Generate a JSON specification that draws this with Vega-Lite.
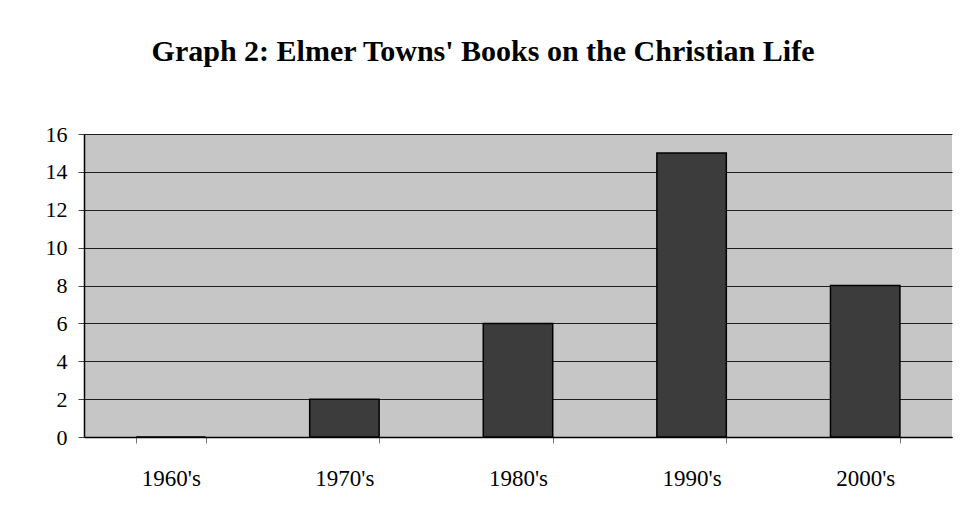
{
  "$schema": "https://vega.github.io/schema/vega-lite/v6.json",
  "width": 868,
  "height": 303,
  "autosize": {"type": "none"},
  "padding": {"left": 84, "top": 134, "right": 15, "bottom": 84},
  "background": "white",
  "title": {
    "text": "Graph 2: Elmer Towns' Books on the Christian Life",
    "font": "Liberation Serif",
    "fontSize": 30,
    "fontWeight": "bold",
    "color": "black",
    "anchor": "middle",
    "frame": "group",
    "baseline": "alphabetic",
    "offset": 32,
    "dx": -35
  },
  "data": {
    "values": [
      {"decade": "1960's", "books": 0},
      {"decade": "1970's", "books": 2},
      {"decade": "1980's", "books": 6},
      {"decade": "1990's", "books": 15},
      {"decade": "2000's", "books": 8}
    ]
  },
  "mark": {"type": "bar", "color": "#3c3c3c", "stroke": "black", "strokeWidth": 1.5},
  "encoding": {
    "x": {
      "field": "decade",
      "type": "nominal",
      "sort": null,
      "scale": {"paddingInner": 0.6, "paddingOuter": 0.3},
      "axis": {
        "title": null,
        "labelAngle": 0,
        "labelFont": "Liberation Serif",
        "labelFontSize": 23,
        "labelColor": "black",
        "labelPadding": 24,
        "tickBand": "extent",
        "tickSize": 6,
        "tickColor": "#777777",
        "domainColor": "black",
        "domainWidth": 1.5,
        "grid": false
      }
    },
    "y": {
      "field": "books",
      "type": "quantitative",
      "scale": {"domain": [0, 16], "nice": false},
      "axis": {
        "title": null,
        "values": [0, 2, 4, 6, 8, 10, 12, 14, 16],
        "labelFont": "Liberation Serif",
        "labelFontSize": 22,
        "labelColor": "black",
        "labelPadding": 11,
        "tickSize": 6,
        "tickColor": "#444444",
        "domainColor": "black",
        "domainWidth": 1.5,
        "grid": true,
        "gridColor": "black",
        "gridWidth": 1,
        "gridOpacity": 0.85
      }
    }
  },
  "config": {
    "view": {"fill": "#c6c6c6", "stroke": null}
  }
}
